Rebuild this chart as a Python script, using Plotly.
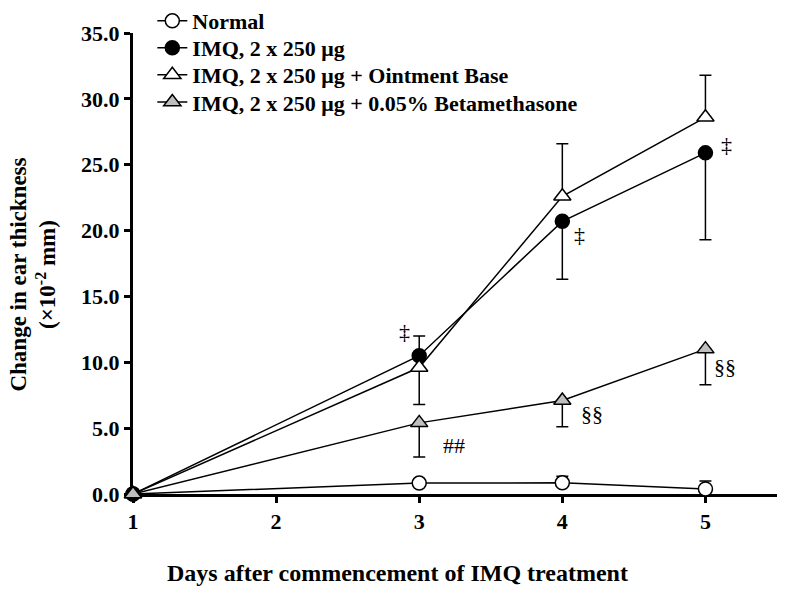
import plotly.graph_objects as go

days = [1, 3, 4, 5]
normal = [0.0, 0.83, 0.85, 0.38]
normal_err_up = [0.0, 0.0, 0.5, 0.6]
imq = [0.0, 10.5, 20.7, 25.9]
imq_err_up = [0.0, 1.5, 0.0, 0.0]
imq_err_dn = [0.0, 0.0, 4.4, 6.6]
oint = [0.0, 9.6, 22.6, 28.6]
oint_err_up = [0.0, 0.0, 4.0, 3.2]
oint_err_dn = [0.0, 2.8, 0.0, 0.0]
beta = [0.0, 5.4, 7.1, 11.0]
beta_err_dn = [0.0, 2.6, 2.0, 2.7]
zeros = [0.0, 0.0, 0.0, 0.0]

names = ["Normal", "IMQ, 2 x 250 μg", "IMQ, 2 x 250 μg + Ointment Base",
         "IMQ, 2 x 250 μg + 0.05% Betamethasone"]

ann_text = ["‡", "##", "‡", "§§", "‡", "§§"]
ann_x = [2.90, 3.24, 4.12, 4.21, 5.15, 5.14]
ann_y = [12.3, 3.7, 19.7, 6.1, 26.5, 9.7]

FONT = "Liberation Serif, Times New Roman, serif"

fig = go.Figure()

legend_ids = ["legend", "legend2", "legend3", "legend4"]
legend_rows_y = [1.026, 0.9675, 0.909, 0.850]

def add(i, y, up, dn, symbol, fill):
    fig.add_trace(go.Scatter(
        x=days, y=y, name=names[i], mode="lines+markers",
        legend=legend_ids[i],
        line=dict(color="black", width=1.5),
        marker=dict(symbol=symbol, size=14 if "circle" in symbol else 15,
                    color=fill, line=dict(color="black", width=1.5)),
        error_y=dict(type="data", symmetric=False, array=up, arrayminus=dn,
                     color="black", thickness=1.5, width=6),
        cliponaxis=False,
    ))

add(0, normal, normal_err_up, zeros, "circle", "white")
add(1, imq, imq_err_up, imq_err_dn, "circle", "black")
add(2, oint, oint_err_up, oint_err_dn, "triangle-up", "white")
add(3, beta, zeros, beta_err_dn, "triangle-up", "#bfbfbf")

for t, x, y in zip(ann_text, ann_x, ann_y):
    fig.add_annotation(x=x, y=y, text=t, showarrow=False,
                       font=dict(family=FONT, size=22, color="black"))

# axis titles as annotations (positioned as in the reference)
fig.add_annotation(xref="paper", yref="paper", x=-0.156, y=0.475,
                   text="<b>Change in ear thickness<br>(×10<sup>-2</sup> mm)</b>",
                   textangle=-90, showarrow=False, xanchor="center", yanchor="middle",
                   font=dict(family=FONT, size=23, color="black"))
fig.add_annotation(xref="paper", yref="paper", x=0.411, y=-0.171,
                   text="<b>Days after commencement of IMQ treatment</b>",
                   showarrow=False, xanchor="center", yanchor="middle",
                   font=dict(family=FONT, size=24, color="black"))

legend_common = dict(xanchor="left", yanchor="middle", bgcolor="rgba(0,0,0,0)",
                     font=dict(family=FONT, size=22, weight="bold"))

fig.update_layout(
    width=790, height=596,
    margin=dict(l=133, r=13, t=33, b=102, autoexpand=False),
    plot_bgcolor="white", paper_bgcolor="white",
    font=dict(family=FONT, color="black", size=22),
    showlegend=True,
    legend=dict(x=0.030, y=legend_rows_y[0], **legend_common),
    legend2=dict(x=0.030, y=legend_rows_y[1], **legend_common),
    legend3=dict(x=0.030, y=legend_rows_y[2], **legend_common),
    legend4=dict(x=0.030, y=legend_rows_y[3], **legend_common),
    xaxis=dict(range=[1, 5.5], tickvals=[1, 2, 3, 4, 5],
               showgrid=False, zeroline=False,
               showline=True, linecolor="black", linewidth=3,
               ticks="outside", ticklen=6, tickwidth=3, tickcolor="black",
               tickfont=dict(family=FONT, size=22, weight="bold"),
               layer="below traces"),
    yaxis=dict(range=[0, 35], tickvals=[0, 5, 10, 15, 20, 25, 30, 35],
               tickformat=".1f", showgrid=False, zeroline=False,
               showline=True, linecolor="black", linewidth=3,
               ticks="outside", ticklen=6, tickwidth=3, tickcolor="black",
               tickfont=dict(family=FONT, size=22, weight="bold"),
               layer="below traces"),
)

fig.write_html("out.html", config={"displayModeBar": False},
               post_script="document.body.style.margin='0';document.body.style.overflow='hidden';")
